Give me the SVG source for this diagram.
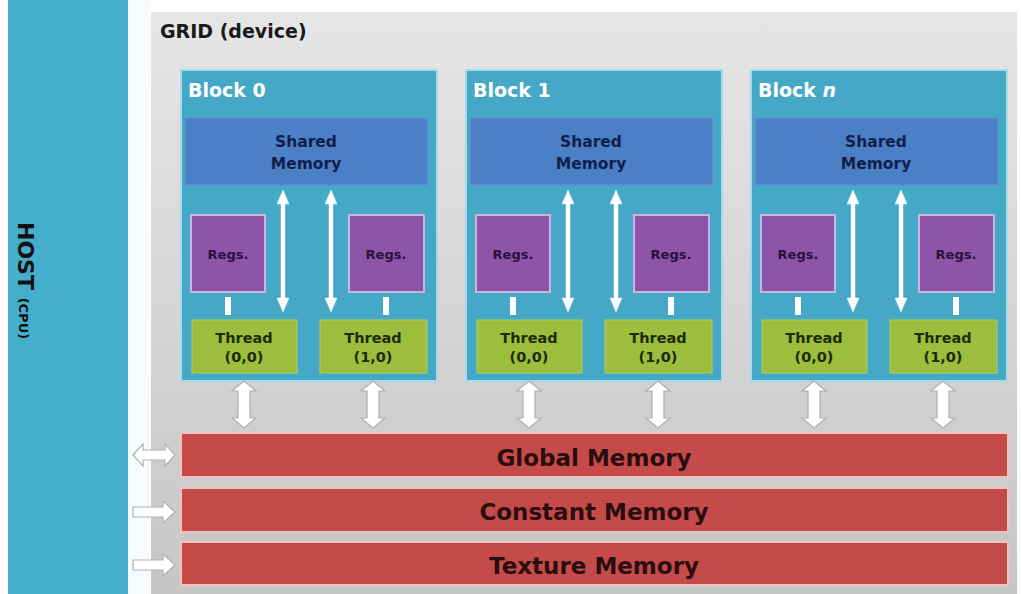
<svg xmlns="http://www.w3.org/2000/svg" width="1021" height="594" viewBox="0 0 1021 594">
<defs>
<linearGradient id="gridGrad" x1="0" y1="0" x2="0" y2="1">
<stop offset="0" stop-color="#e6e6e6"/>
<stop offset="1" stop-color="#c6c6c6"/>
</linearGradient>
<style>
text{font-family:"DejaVu Sans","Liberation Sans",sans-serif;font-weight:bold}
.block{fill:#44a8c6;stroke:#a6dbe8;stroke-width:2}
.shared{fill:#4c80c6;stroke:#5f93d0;stroke-width:1}
.regs{fill:#8c55a8;stroke:#c9b6e0;stroke-width:2}
.thread{fill:#9dbd3c;stroke:#b3cf5e;stroke-width:1}
.mem{fill:#c54a4a;stroke:#f2c3bd;stroke-width:2}
.fat{fill:#ffffff;stroke:#b0b0b0;stroke-width:1.2}
.thin{fill:#ffffff;stroke:#dff2f7;stroke-width:0.6}
.blabel{fill:#ffffff;font-size:19px}
.stxt{fill:#0f1f4c;font-size:15.5px;text-anchor:middle}
.rtxt{fill:#2e0f3e;font-size:13px;text-anchor:middle}
.ttxt{fill:#1e2b08;font-size:14.5px;text-anchor:middle}
.mtxt{fill:#2a0d0d;font-size:23px;text-anchor:middle}
</style>
</defs>
<rect x="0" y="0" width="1021" height="594" fill="#ffffff"/>
<g id="host">
<rect x="8" y="0" width="120" height="594" fill="#45aecb"/>
<rect x="128" y="0" width="22" height="594" fill="#f6fcfd"/>
<text transform="translate(18,222) rotate(90)" fill="#111111" font-size="22">HOST <tspan font-size="13" dy="-1">(CPU)</tspan></text>
</g>
<g id="grid">
<rect x="151" y="12" width="866" height="582" fill="url(#gridGrad)"/>
<text x="160" y="38" fill="#1a1a1a" font-size="19">GRID (device)</text>
</g>

<g id="block0" transform="translate(0,0)">
<rect class="block" x="181" y="70" width="256" height="311"/>
<text class="blabel" x="188" y="97">Block 0</text>
<rect class="shared" x="185" y="118" width="243" height="67"/>
<text class="stxt" x="306" y="147">Shared</text>
<text class="stxt" x="306" y="169">Memory</text>
<rect class="regs" x="191" y="215" width="74" height="77"/>
<text class="rtxt" x="228" y="259">Regs.</text>
<rect class="regs" x="349" y="215" width="75" height="77"/>
<text class="rtxt" x="386" y="259">Regs.</text>
<rect x="225" y="297" width="6" height="18" fill="#ffffff"/>
<rect x="383" y="297" width="6" height="18" fill="#ffffff"/>
<rect class="thread" x="192" y="320" width="105" height="53"/>
<text class="ttxt" x="244" y="343">Thread</text>
<text class="ttxt" x="244" y="362">(0,0)</text>
<rect class="thread" x="320" y="320" width="107" height="53"/>
<text class="ttxt" x="373" y="343">Thread</text>
<text class="ttxt" x="373" y="362">(1,0)</text>
</g>

<g id="block1" transform="translate(285,0)">
<rect class="block" x="181" y="70" width="256" height="311"/>
<text class="blabel" x="188" y="97">Block 1</text>
<rect class="shared" x="185" y="118" width="243" height="67"/>
<text class="stxt" x="306" y="147">Shared</text>
<text class="stxt" x="306" y="169">Memory</text>
<rect class="regs" x="191" y="215" width="74" height="77"/>
<text class="rtxt" x="228" y="259">Regs.</text>
<rect class="regs" x="349" y="215" width="75" height="77"/>
<text class="rtxt" x="386" y="259">Regs.</text>
<rect x="225" y="297" width="6" height="18" fill="#ffffff"/>
<rect x="383" y="297" width="6" height="18" fill="#ffffff"/>
<rect class="thread" x="192" y="320" width="105" height="53"/>
<text class="ttxt" x="244" y="343">Thread</text>
<text class="ttxt" x="244" y="362">(0,0)</text>
<rect class="thread" x="320" y="320" width="107" height="53"/>
<text class="ttxt" x="373" y="343">Thread</text>
<text class="ttxt" x="373" y="362">(1,0)</text>
</g>

<g id="blockn" transform="translate(570,0)">
<rect class="block" x="181" y="70" width="256" height="311"/>
<text class="blabel" x="188" y="97">Block <tspan font-style="italic">n</tspan></text>
<rect class="shared" x="185" y="118" width="243" height="67"/>
<text class="stxt" x="306" y="147">Shared</text>
<text class="stxt" x="306" y="169">Memory</text>
<rect class="regs" x="191" y="215" width="74" height="77"/>
<text class="rtxt" x="228" y="259">Regs.</text>
<rect class="regs" x="349" y="215" width="75" height="77"/>
<text class="rtxt" x="386" y="259">Regs.</text>
<rect x="225" y="297" width="6" height="18" fill="#ffffff"/>
<rect x="383" y="297" width="6" height="18" fill="#ffffff"/>
<rect class="thread" x="192" y="320" width="105" height="53"/>
<text class="ttxt" x="244" y="343">Thread</text>
<text class="ttxt" x="244" y="362">(0,0)</text>
<rect class="thread" x="320" y="320" width="107" height="53"/>
<text class="ttxt" x="373" y="343">Thread</text>
<text class="ttxt" x="373" y="362">(1,0)</text>
</g>

<g id="global-memory">
<rect class="mem" x="181" y="433" width="827" height="44"/>
<text class="mtxt" x="594" y="466">Global Memory</text>
</g>
<g id="constant-memory">
<rect class="mem" x="181" y="488" width="827" height="44"/>
<text class="mtxt" x="594" y="520">Constant Memory</text>
</g>
<g id="texture-memory">
<rect class="mem" x="181" y="542" width="827" height="43"/>
<text class="mtxt" x="594" y="574">Texture Memory</text>
</g>

<g id="connectors">
<path class="thin" d="M283,190 L289,204 L285,204 L285,298 L289,298 L283,312 L277,298 L281,298 L281,204 L277,204 Z"/>
<path class="thin" d="M331,190 L337,204 L333,204 L333,298 L337,298 L331,312 L325,298 L329,298 L329,204 L325,204 Z"/>
<path class="thin" d="M568,190 L574,204 L570,204 L570,298 L574,298 L568,312 L562,298 L566,298 L566,204 L562,204 Z"/>
<path class="thin" d="M616,190 L622,204 L618,204 L618,298 L622,298 L616,312 L610,298 L614,298 L614,204 L610,204 Z"/>
<path class="thin" d="M853,190 L859,204 L855,204 L855,298 L859,298 L853,312 L847,298 L851,298 L851,204 L847,204 Z"/>
<path class="thin" d="M901,190 L907,204 L903,204 L903,298 L907,298 L901,312 L895,298 L899,298 L899,204 L895,204 Z"/>

<path class="fat" d="M244,381 L256,391 L250,391 L250,418 L256,418 L244,428 L232,418 L238,418 L238,391 L232,391 Z"/>
<path class="fat" d="M373,381 L385,391 L379,391 L379,418 L385,418 L373,428 L361,418 L367,418 L367,391 L361,391 Z"/>
<path class="fat" d="M529,381 L541,391 L535,391 L535,418 L541,418 L529,428 L517,418 L523,418 L523,391 L517,391 Z"/>
<path class="fat" d="M658,381 L670,391 L664,391 L664,418 L670,418 L658,428 L646,418 L652,418 L652,391 L646,391 Z"/>
<path class="fat" d="M814,381 L826,391 L820,391 L820,418 L826,418 L814,428 L802,418 L808,418 L808,391 L802,391 Z"/>
<path class="fat" d="M943,381 L955,391 L949,391 L949,418 L955,418 L943,428 L931,418 L937,418 L937,391 L931,391 Z"/>

<path class="fat" d="M133,455 L143,444 L143,450 L165,450 L165,444 L175,455 L165,466 L165,460 L143,460 L143,466 Z"/>
<path class="fat" d="M133,507 L163,507 L163,501 L175,512 L163,523 L163,517 L133,517 Z"/>
<path class="fat" d="M133,560 L163,560 L163,554 L175,565 L163,576 L163,570 L133,570 Z"/>
</g>
</svg>
